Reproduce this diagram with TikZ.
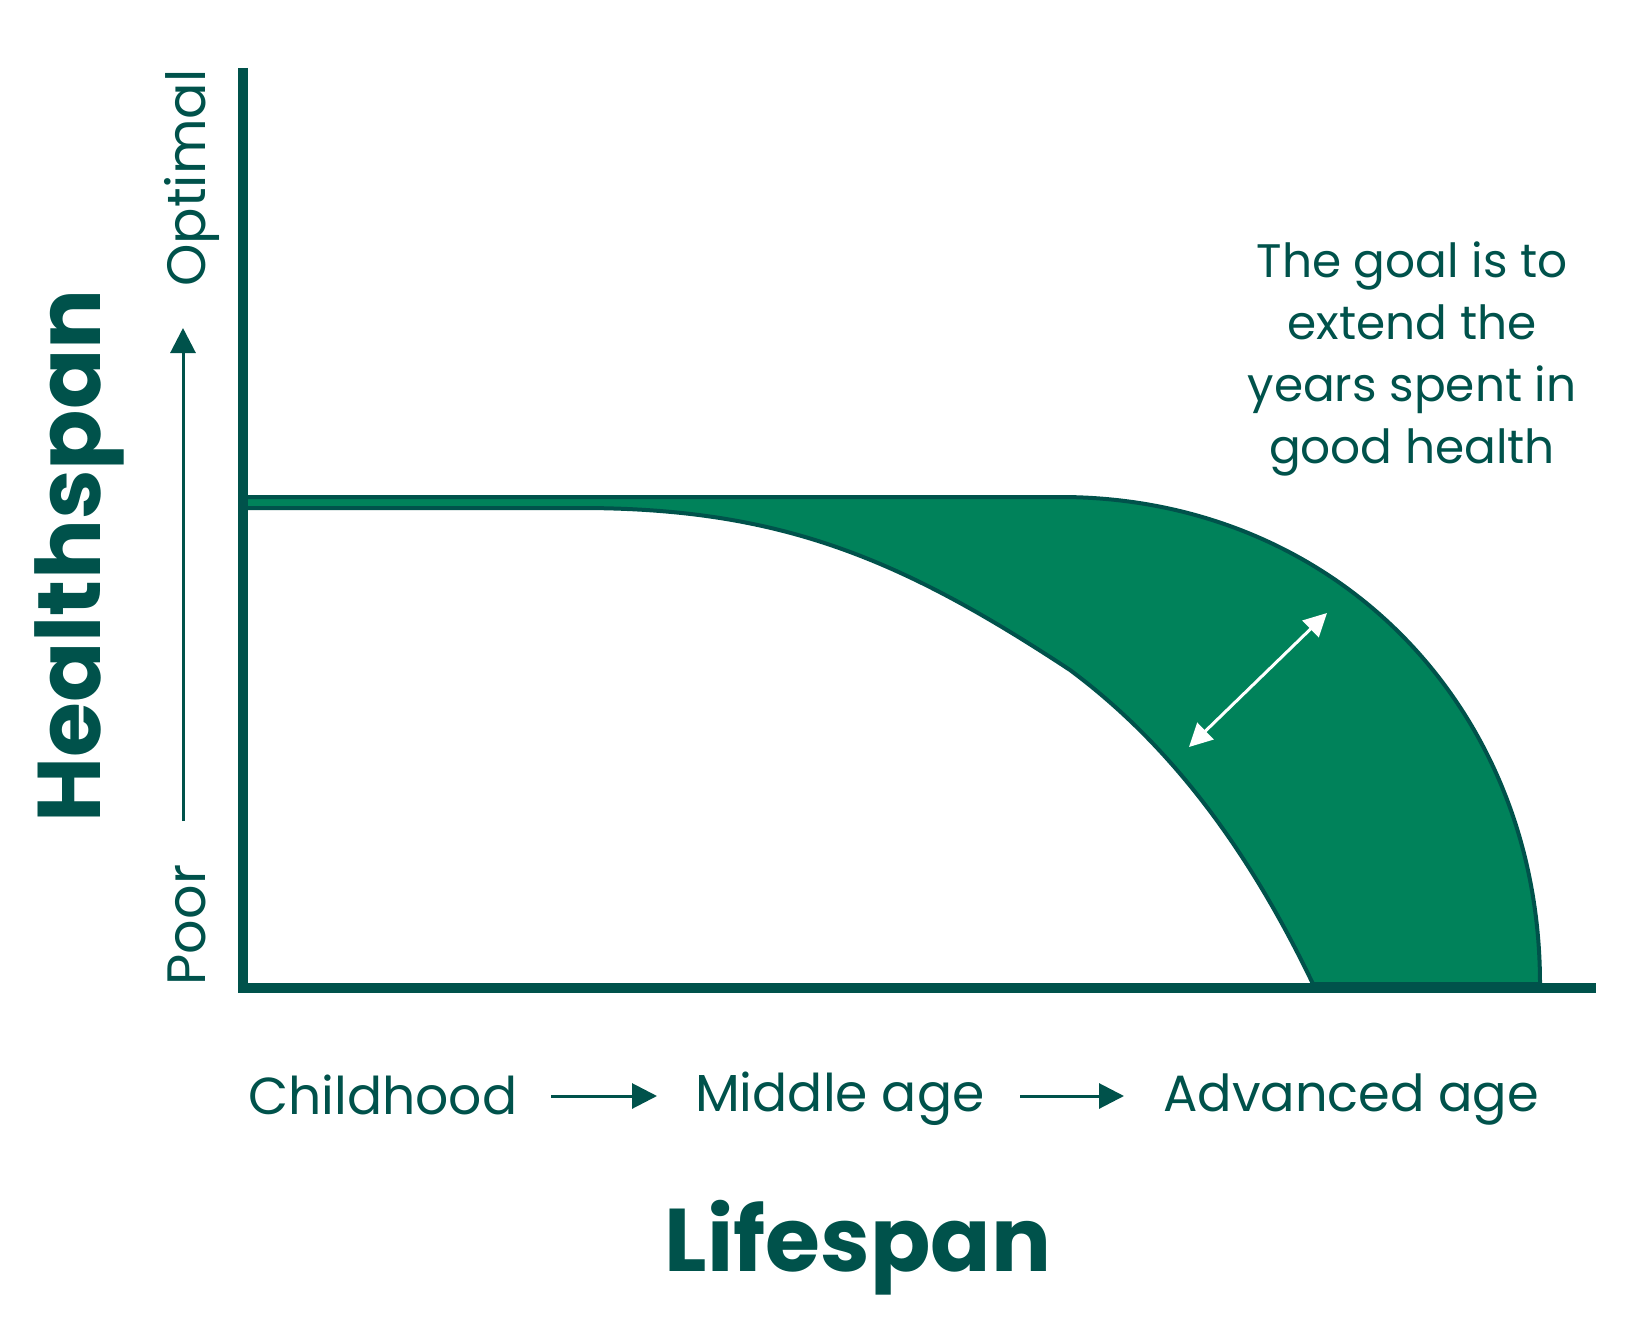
\documentclass[tikz,border=0pt]{standalone}
\usepackage{fontspec}
\setmainfont{Poppins}
\usetikzlibrary{arrows.meta, positioning}

\definecolor{tealdark}{HTML}{00524B}
\definecolor{spangreen}{HTML}{00825A}

\begin{document}
\begin{tikzpicture}[x=1pt, y=-1pt]
      \tikzset{
        axis/.style={draw=tealdark, line width=10pt},
        curve/.style={draw=tealdark, line width=4pt},
        lbl/.style={text=tealdark, inner sep=0pt, font=\fontsize{52}{60}\selectfont},
        ylbl/.style={lbl, rotate=90, anchor=base, font=\fontsize{54}{60}\selectfont},
        title/.style={text=tealdark, inner sep=0pt, font=\fontsize{89}{96}\selectfont\bfseries},
        tip/.style={draw=tealdark, line width=3pt,
          -{Triangle[length=25pt, width=25pt]}}
      }
      \useasboundingbox (0,0) rectangle (1636,1340);

      % band between the two curves
      \path[fill=spangreen, curve] (243,497) -- (1060,497)
        .. controls (1334,497) and (1540,706) .. (1540,984)
        -- (1313,984)
        .. controls (1241,834) and (1160,737) .. (1070,670)
        .. controls (900,558) and (780,508) .. (580,508)
        -- (243,508) -- cycle;

      % axes
      \coordinate (origin) at (243,988);
      \coordinate (ytop) at (243,68);
      \coordinate (xend) at (1596,988);
      \draw[axis] (ytop) -- (origin.center) -- (xend);

      % white arrow in the band
      \coordinate (gapin) at (1189,747);
      \coordinate (gapout) at (1327,613);
      \draw[draw=white, line width=3pt,
        {Triangle[length=23pt, width=23pt]}-{Triangle[length=23pt, width=23pt]}]
        (gapin) -- (gapout);

      % vertical labels
      \node[title, rotate=90, anchor=base] (health) at (100,556) {Healthspan};
      \node[ylbl] (optimal) at (205,178) {Optimal};
      \node[ylbl] (poor) at (205,925) {Poor};
      \coordinate (ylow) at (183,821);
      \coordinate (yhigh) at (183,328);
      \draw[tip] (ylow) -- (yhigh);

      % age labels
      \node[lbl, anchor=base west] (child) at (248,1114) {Childhood};
      \node[lbl, anchor=base west] (middle) at (695,1111) {Middle age};
      \node[lbl, anchor=base west, font=\fontsize{51}{60}\selectfont]
        (advanced) at (1163,1111) {Advanced age};
      \coordinate (a1s) at (551,1096);
      \coordinate (a1e) at (657,1096);
      \coordinate (a2s) at (1020,1096);
      \coordinate (a2e) at (1124,1096);
      \draw[tip] (a1s) -- (a1e);
      \draw[tip] (a2s) -- (a2e);
      \node[title, anchor=base] (life) at (858,1271) {Lifespan};

      % goal note
      \node[lbl, align=center, anchor=base, font=\fontsize{47}{62}\selectfont]
        (goal) at (1412,463) {The goal is to\\extend the\\years spent in\\good health};
    \end{tikzpicture}
\end{document}
